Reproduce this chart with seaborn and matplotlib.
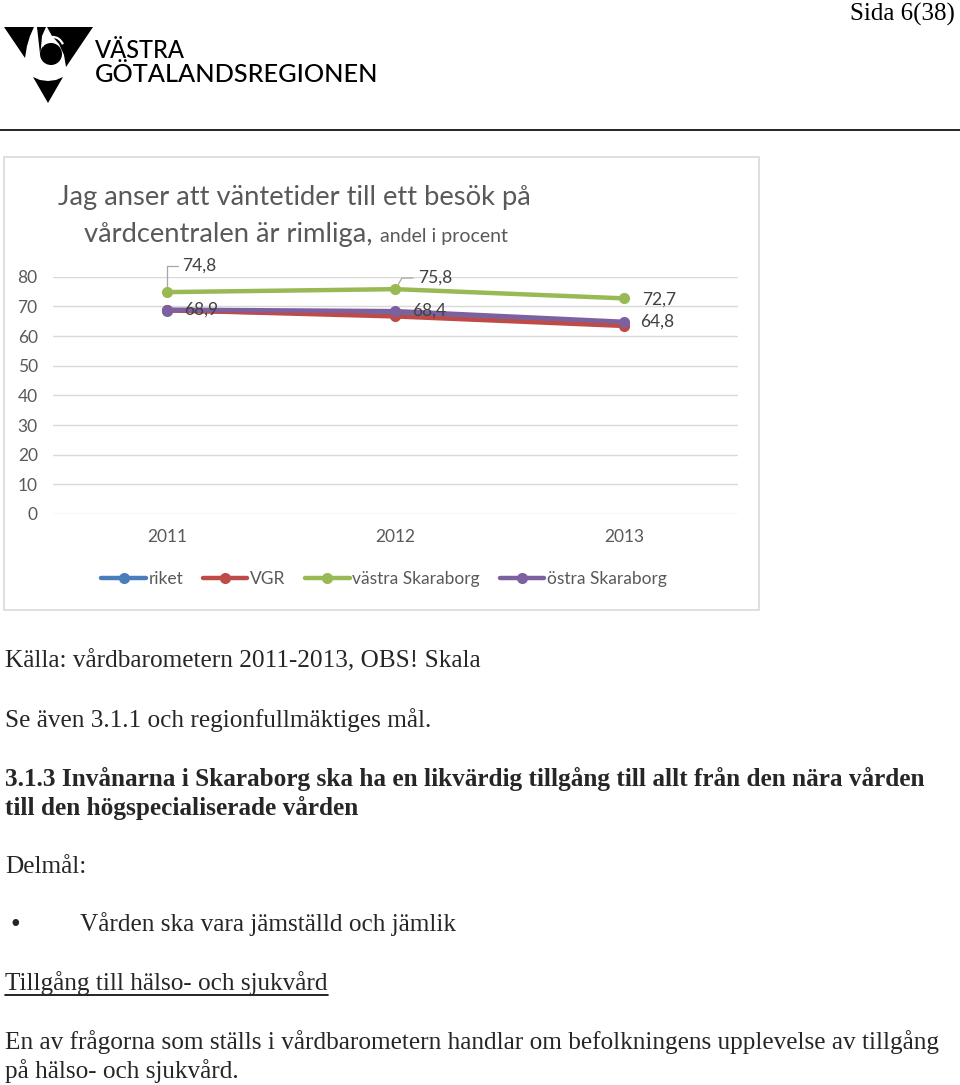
import matplotlib
matplotlib.use('Agg')
import matplotlib.pyplot as plt
import seaborn as sns
import pandas as pd
from matplotlib.patches import Rectangle, Polygon, Circle, Arc
from matplotlib.lines import Line2D

# ---------------- data ----------------
years = ['2011', '2012', '2013']
series_names = ['riket', 'VGR', 'västra Skaraborg', 'östra Skaraborg']
riket = [68.6, 67.2, 64.2]
vgr = [68.7, 66.6, 63.4]
vastra = [74.8, 75.8, 72.7]
ostra = [68.9, 68.4, 64.8]
vastra_labels = ['74,8', '75,8', '72,7']
ostra_labels = ['68,9', '68,4', '64,8']
colors = ['#4a7ebb', '#be4b48', '#98b954', '#7d60a0']
yticks = [0, 10, 20, 30, 40, 50, 60, 70, 80]

df = pd.DataFrame({
    'year': years * 4,
    'value': riket + vgr + vastra + ostra,
    'series': [s for s in series_names for _ in years],
})

sns.set_style('white')
W, H = 960, 1085
fig = plt.figure(figsize=(W / 100, H / 100), dpi=100)
fig.patch.set_facecolor('white')

# page layer in pixel coordinates
page = fig.add_axes([0, 0, 1, 1], zorder=0)
page.set_xlim(0, W)
page.set_ylim(H, 0)
page.axis('off')

SERIF = 'Liberation Serif'
CHART = 'Lato'
GRAY = '#595959'

# header
page.text(955, 14, 'Sida 6(38)', ha='right', va='center', fontsize=18, family=SERIF, color='black')
page.plot([0, 960], [130, 130], color='black', lw=1.2)

# logo
page.add_patch(Polygon([(4, 27), (34, 27), (30, 36), (27, 46), (25, 58)], closed=True, color='black', lw=0))
page.add_patch(Polygon([(47, 27), (93, 27), (66, 67), (64, 55), (59, 44), (52, 36)], closed=True, color='black', lw=0))
page.add_patch(Circle((51, 54), 11, color='black', lw=0))
page.add_patch(Polygon([(37, 27), (46, 27), (42, 36), (41, 48), (40, 54)], closed=True, color='black', lw=0))
page.add_patch(Arc((53, 50), 22, 26, theta1=200, theta2=330, color='white', lw=1.6))
page.add_patch(Polygon([(33, 77), (40, 80), (48, 81), (56, 80), (63, 77), (48, 103)], closed=True, color='black', lw=0))
page.text(95, 50, 'VÄSTRA', ha='left', va='center', fontsize=17, family='Lato', weight='medium', color='black')
page.text(95, 74, 'GÖTALANDSREGIONEN', ha='left', va='center', fontsize=18.2, family='Lato', weight='medium', color='black')

# chart frame
page.add_patch(Rectangle((4, 157), 755, 453, fill=False, edgecolor='#d9d9d9', lw=1.2))

# chart title
page.text(294, 205, 'Jag anser att väntetider till ett besök på', ha='center', va='baseline',
          fontsize=19.7, family=CHART, color=GRAY)
page.text(373, 242, 'vårdcentralen är rimliga,', ha='right', va='baseline',
          fontsize=19.7, family=CHART, color=GRAY)
page.text(380, 242, 'andel i procent', ha='left', va='baseline',
          fontsize=14, family=CHART, color=GRAY)

# chart axes
ax = fig.add_axes([53 / W, 1 - 514 / H, 685 / W, (514 - 276.7) / H], zorder=2)
ax.set_facecolor('none')
sns.lineplot(data=df, x='year', y='value', hue='series', hue_order=series_names,
             palette=colors, marker='o', markersize=8, markeredgewidth=0,
             linewidth=3.2, legend=False, ax=ax, sort=False)
ax.set_xlim(-0.5, 2.5)
ax.set_ylim(0, 80)
ax.set_yticks(yticks)
ax.set_xlabel('')
ax.set_ylabel('')
ax.grid(axis='y', color='#d9d9d9', lw=1)
ax.grid(axis='x', visible=False)
for s in ax.spines.values():
    s.set_visible(False)
ax.tick_params(axis='y', length=0, pad=11, labelsize=12.5, labelcolor=GRAY)
ax.tick_params(axis='x', length=0, pad=11, labelsize=12.5, labelcolor=GRAY)
for lab in ax.get_xticklabels() + ax.get_yticklabels():
    lab.set_family(CHART)

LBL = '#404040'
LFS = 12.5
arrow = dict(arrowstyle='-', color='#a6a6a6', lw=0.9, shrinkA=1, shrinkB=4)
ax.annotate(vastra_labels[0], xy=(years[0], vastra[0]), xytext=(11, 19), textcoords='offset points',
            ha='left', va='center', fontsize=LFS, family=CHART, color=LBL,
            arrowprops=dict(arrow, connectionstyle='angle,angleA=0,angleB=90,rad=0'))
ax.annotate(vastra_labels[1], xy=(years[1], vastra[1]), xytext=(16, 8), textcoords='offset points',
            ha='left', va='center', fontsize=LFS, family=CHART, color=LBL,
            arrowprops=dict(arrow, connectionstyle='angle,angleA=0,angleB=60,rad=0'))
ax.annotate(vastra_labels[2], xy=(years[2], vastra[2]), xytext=(13, -1), textcoords='offset points',
            ha='left', va='center', fontsize=LFS, family=CHART, color=LBL)
for i in range(3):
    ax.annotate(ostra_labels[i], xy=(years[i], ostra[i]), xytext=(12, 0), textcoords='offset points',
                ha='left', va='center', fontsize=LFS, family=CHART, color=LBL)

handles = [Line2D([], [], color=c, lw=3.2, marker='o', markersize=8, markeredgewidth=0) for c in colors]
leg = fig.legend(handles, series_names, loc='center', bbox_to_anchor=(384 / W, 1 - 579 / H),
                 ncol=4, frameon=False, handlelength=2.55, handletextpad=0.15, columnspacing=1.15,
                 prop={'family': CHART, 'size': 12.5})
for t in leg.get_texts():
    t.set_color(GRAY)

# body text
BODY = 18.2
page.text(5, 661, 'Källa: vårdbarometern 2011-2013, OBS! Skala', ha='left', va='center', fontsize=BODY, family=SERIF)
page.text(5, 720, 'Se även 3.1.1 och regionfullmäktiges mål.', ha='left', va='center', fontsize=BODY, family=SERIF)
page.text(5, 779, '3.1.3 Invånarna i Skaraborg ska ha en likvärdig tillgång till allt från den nära vården',
          ha='left', va='center', fontsize=BODY, family=SERIF, weight='bold')
page.text(5, 808, 'till den högspecialiserade vården', ha='left', va='center', fontsize=BODY, family=SERIF, weight='bold')
page.text(5, 867, 'Delmål:', ha='left', va='center', fontsize=BODY, family=SERIF)
page.text(11, 926, '•', ha='left', va='center', fontsize=20, family=SERIF)
page.text(80, 924, 'Vården ska vara jämställd och jämlik', ha='left', va='center', fontsize=BODY, family=SERIF)
t_ul = page.text(5, 983, 'Tillgång till hälso- och sjukvård', ha='left', va='center', fontsize=BODY, family=SERIF)
page.text(5, 1042, 'En av frågorna som ställs i vårdbarometern handlar om befolkningens upplevelse av tillgång',
          ha='left', va='center', fontsize=BODY, family=SERIF)
page.text(5, 1071, 'på hälso- och sjukvård.', ha='left', va='center', fontsize=BODY, family=SERIF)

fig.canvas.draw()
r = fig.canvas.get_renderer()
bb = t_ul.get_window_extent(r).transformed(page.transData.inverted())
page.plot([bb.x0, bb.x1], [995, 995], color='black', lw=1.2)

fig.savefig('out.png', dpi=100, facecolor='white')
